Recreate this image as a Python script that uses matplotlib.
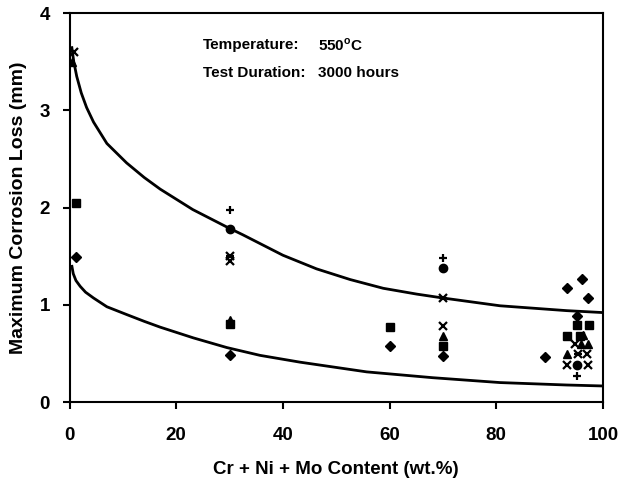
import matplotlib
matplotlib.use('Agg')
import matplotlib.pyplot as plt

plt.rcParams['font.family'] = 'Liberation Sans'
plt.rcParams['font.weight'] = 'bold'

# measured points, one list pair per alloy series
diamond_x = [1.2, 30, 60, 70, 89.1, 93.2, 96.0, 97.2, 95.1]
diamond_y = [1.49, 0.48, 0.58, 0.47, 0.46, 1.17, 1.27, 1.07, 0.89]
square_x = [1.2, 30, 60, 70, 95.1, 97.4, 93.3, 95.6]
square_y = [2.05, 0.80, 0.77, 0.58, 0.79, 0.79, 0.68, 0.68]
triangle_x = [0.4, 30, 70, 96.3, 95.9, 97.1, 93.3]
triangle_y = [3.50, 0.84, 0.68, 0.69, 0.60, 0.60, 0.49]
cross_x = [0.8, 30, 70, 94.8, 97.0, 93.3, 97.2]
cross_y = [3.60, 1.45, 0.78, 0.60, 0.49, 0.38, 0.38]
star_x = [30, 70, 95.3]
star_y = [1.50, 1.07, 0.49]
circle_x = [30, 70, 95.1]
circle_y = [1.78, 1.38, 0.38]
plus_x = [30, 70, 95.1]
plus_y = [1.98, 1.48, 0.27]

# trend lines (upper and lower bound)
upper_x = [0.4, 0.8, 1.35, 2.2, 3.2, 4.5, 7.0, 10.7, 14.0, 17.0, 23.1, 29.5,
           32.5, 40.0, 46.3, 52.6, 58.8, 65.1, 70.0, 80.7, 93.2, 100]
upper_y = [3.66, 3.50, 3.35, 3.18, 3.03, 2.88, 2.66, 2.46, 2.31, 2.19, 1.98, 1.80,
           1.72, 1.51, 1.37, 1.26, 1.17, 1.11, 1.07, 0.99, 0.94, 0.92]
lower_x = [0.4, 0.7, 1.2, 2.0, 3.0, 4.5, 7.0, 10.7, 14.0, 17.0, 23.2, 29.5,
           35.7, 43.2, 55.7, 68.1, 80.7, 93.2, 100]
lower_y = [1.41, 1.32, 1.25, 1.19, 1.13, 1.07, 0.98, 0.90, 0.83, 0.77, 0.66, 0.56,
           0.48, 0.41, 0.31, 0.25, 0.20, 0.175, 0.165]

fig = plt.figure(figsize=(6.23, 4.84), dpi=100)
ax = fig.add_axes([0.1116, 0.1694, 0.8563, 0.8033])

ax.plot(upper_x, upper_y, 'k-', lw=2.0, solid_capstyle='butt')
ax.plot(lower_x, lower_y, 'k-', lw=2.0, solid_capstyle='butt')

ax.plot(diamond_x, diamond_y, 'kD', ms=5, ls='none')
ax.plot(square_x, square_y, 'ks', ms=5.5, ls='none')
ax.plot(triangle_x, triangle_y, 'k^', ms=6, ls='none')
ax.plot(cross_x, cross_y, 'kx', ms=5.5, mew=1.6, ls='none')
ax.plot(star_x, star_y, 'kx', ms=5.5, mew=1.6, ls='none')
ax.plot(star_x, star_y, 'k_', ms=5.5, mew=1.6, ls='none')
ax.plot(circle_x, circle_y, 'ko', ms=6, ls='none')
ax.plot(plus_x, plus_y, 'k+', ms=5.5, mew=1.6, ls='none')

ax.set_xlim(0, 100)
ax.set_ylim(0, 4)
ax.set_xticks([0, 20, 40, 60, 80, 100])
ax.set_yticks([0, 1, 2, 3, 4])
ax.tick_params(direction='out', length=5, width=1.5, labelsize=13.5)
ax.tick_params(axis='x', pad=13)
ax.tick_params(axis='y', pad=9)
for s in ax.spines.values():
    s.set_linewidth(1.5)

ax.set_xlabel('Cr + Ni + Mo Content (wt.%)', fontsize=13.5, fontweight='bold', labelpad=12)
ax.set_ylabel('Maximum Corrosion Loss (mm)', fontsize=14, fontweight='bold', labelpad=9)

ax.text(25.0, 3.67, 'Temperature:', fontsize=11, fontweight='bold', va='center')
ax.text(46.6, 3.67, '550$^{\\mathregular{o}}$C', fontsize=11, fontweight='bold', va='center')
ax.text(25.0, 3.39, 'Test Duration:', fontsize=11, fontweight='bold', va='center')
ax.text(46.6, 3.39, '3000 hours', fontsize=11, fontweight='bold', va='center')

plt.savefig('out.png', dpi=100)
